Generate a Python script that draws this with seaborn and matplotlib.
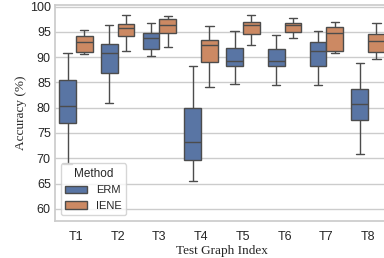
import numpy as np
import pandas as pd
import seaborn as sns
import matplotlib.pyplot as plt

tests = ['T1', 'T2', 'T3', 'T4', 'T5', 'T6', 'T7', 'T8']
methods = ['ERM', 'IENE']
# five values per box: low whisker, q1, median, q3, high whisker
erm = [
    [68.9, 76.9, 80.3, 85.5, 90.9],
    [81.0, 86.8, 90.9, 92.6, 96.4],
    [90.2, 91.7, 93.7, 94.8, 96.8],
    [65.5, 69.7, 73.3, 79.9, 88.2],
    [84.6, 88.2, 89.3, 91.8, 95.1],
    [84.4, 88.2, 89.3, 91.6, 94.3],
    [84.5, 88.2, 91.2, 93.0, 95.2],
    [70.9, 77.6, 80.8, 83.6, 88.8],
]
iene = [
    [90.6, 91.1, 93.0, 94.2, 95.4],
    [91.3, 94.2, 95.7, 96.5, 98.4],
    [91.9, 94.7, 96.3, 97.6, 98.2],
    [84.1, 89.1, 92.4, 93.4, 96.2],
    [92.4, 94.6, 96.4, 97.0, 98.3],
    [93.8, 94.9, 96.3, 96.8, 97.8],
    [90.9, 91.3, 94.7, 95.9, 97.0],
    [89.6, 91.1, 93.2, 94.5, 96.8],
]

rows = []
for name, vals in zip(methods, [erm, iene]):
    for t, v in zip(tests, vals):
        for a in v:
            rows.append({'Test': t, 'Method': name, 'Accuracy': a})
df = pd.DataFrame(rows)

sns.set_theme(style='whitegrid')
plt.rcParams['font.family'] = ['Liberation Sans', 'DejaVu Sans']

fig = plt.figure(figsize=(3.84, 2.58), dpi=100)
ax = fig.add_axes([55 / 384, 37 / 258, 334 / 384, 216 / 258])
sns.boxplot(data=df, x='Test', y='Accuracy', hue='Method', order=tests,
            hue_order=methods, whis=(0, 100), width=0.8, ax=ax)

ax.set_ylim(57.6, 100.3)
ax.set_yticks(np.arange(60, 101, 5))
ax.set_xlim(-0.5, 7.5)
ax.tick_params(axis='both', labelsize=9, length=0)
ax.tick_params(axis='x', pad=7.5)
ax.tick_params(axis='y', pad=3)
ax.set_xlabel('Test Graph Index', family='Liberation Serif', fontsize=9.5, labelpad=1)
ax.set_ylabel('Accuracy (%)', family='Liberation Serif', fontsize=9.5, labelpad=2)

leg = ax.legend(title='Method', loc='lower left', fontsize=8, title_fontsize=8.5)

fig.savefig('out.png', dpi=100)
